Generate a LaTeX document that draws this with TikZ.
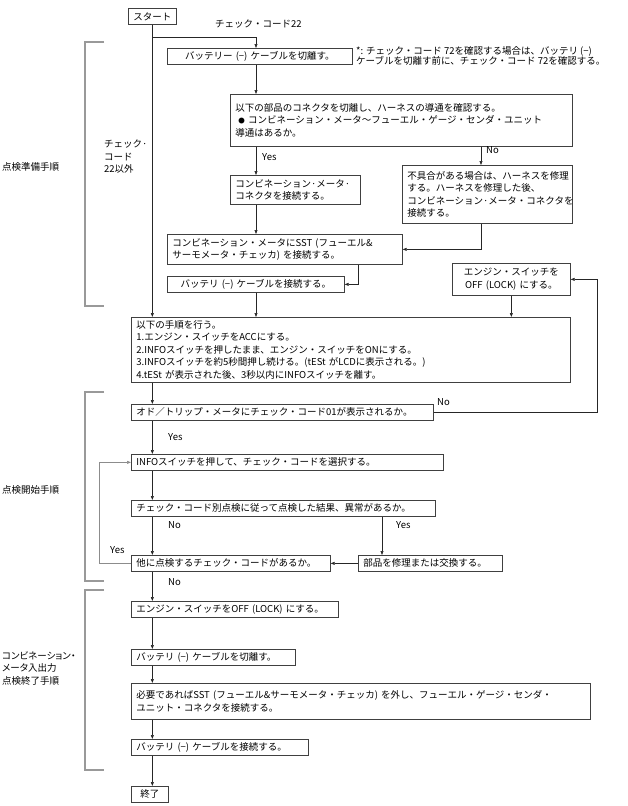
\documentclass[tikz,border=0pt]{standalone}
\usepackage{fontspec}
\setmainfont{Noto Sans CJK JP}
\usetikzlibrary{arrows.meta}

\begin{document}
\begin{tikzpicture}[x=1pt,y=-1pt,
    box/.style={draw=black!75,line width=0.7pt,anchor=north west,align=left,
      inner xsep=5pt,inner ysep=1pt},
    arr/.style={draw=black!85,line width=0.6pt,-{Triangle[length=4pt,width=3pt]}},
    brk/.style={draw=black!40,line width=1.2pt},
    lbl/.style={inner sep=0pt,anchor=west},
    every node/.style={font=\fontsize{9.5}{12.5}\selectfont}]
  \useasboundingbox (0,0) rectangle (627,806);
  % columns of the connectors
  \coordinate (colA) at (256,0);
  \coordinate (colB) at (481,0);
  \coordinate (colC) at (358,0);
  \coordinate (colP) at (382,0);
  \coordinate (colR) at (597,0);
  \coordinate (colL) at (99,0);
  \coordinate (row22) at (0,37);

  % preparation
  \node[box,align=center,text width=38pt,minimum height=16pt] (start) at (128,8) {スタート};
  \node[lbl] (l22) at (215,24) {チェック・コード22};
  \node[box,align=center,text width=175pt,minimum height=16pt] (bat1) at (167,48)
    {バッテリー (−) ケーブルを切離す。};
  \node[anchor=north west,align=left,inner sep=0pt,
    font=\fontsize{9.5}{10.5}\selectfont] (note) at (356,46)
    {*: チェック・コード 72を確認する場合は、バッテリ (−)\\
     ケーブルを切離す前に、チェック・コード 72を確認する。};
  \node[box,text width=332pt,minimum height=52pt] (cont) at (230,94)
    {以下の部品のコネクタを切離し、ハーネスの導通を確認する。\\
     \hspace{3pt}{\fontsize{6.5}{6.5}\selectfont ●} コンビネーション・メータ〜フューエル・ゲージ・センダ・ユニット\\
     導通はあるか。};
  \node[box,text width=120pt,minimum height=29pt] (conn) at (230,175)
    {コンビネーション·メータ·\\コネクタを接続する。};
  \node[box,text width=160pt,minimum height=58pt] (harn) at (402,165)
    {不具合がある場合は、ハーネスを修理\\する。ハーネスを修理した後、\\
     コンビネーション·メータ・コネクタを\\接続する。};
  \node[box,text width=225pt,minimum height=30pt] (sst) at (167,234)
    {コンビネーション・メータにSST (フューエル\&\\サーモメータ・チェッカ) を接続する。};
  \node[box,align=center,text width=167pt,minimum height=16pt] (bat2) at (167,276)
    {バッテリ (−) ケーブルを接続する。};
  \node[box,align=center,text width=108pt,minimum height=32pt] (eoff1) at (452,263)
    {エンジン・スイッチを\\OFF (LOCK) にする。};
  \node[box,text width=429pt,minimum height=65pt] (proc) at (131,317)
    {以下の手順を行う。\\
     1.エンジン・スイッチをACCにする。\\
     2.INFOスイッチを押したまま、エンジン・スイッチをONにする。\\
     3.INFOスイッチを約5秒間押し続ける。(tESt がLCDに表示される。)\\
     4.tESt が表示された後、3秒以内にINFOスイッチを離す。};

  % check start
  \node[box,text width=292pt,minimum height=16pt] (odo) at (131,404)
    {オド／トリップ・メータにチェック・コード01が表示されるか。};
  \node[box,text width=302pt,minimum height=16pt] (info) at (131,454)
    {INFOスイッチを押して、チェック・コードを選択する。};
  \node[box,text width=294pt,minimum height=16pt] (result) at (131,500)
    {チェック・コード別点検に従って点検した結果、異常があるか。};
  \node[box,text width=189pt,minimum height=16pt] (other) at (131,555)
    {他に点検するチェック・コードがあるか。};
  \node[box,text width=134pt,minimum height=16pt] (parts) at (358,555)
    {部品を修理または交換する。};

  % finish
  \node[box,text width=197pt,minimum height=16pt] (eoff2) at (131,601)
    {エンジン・スイッチをOFF (LOCK) にする。};
  \node[box,text width=154pt,minimum height=16pt] (bat3) at (131,649)
    {バッテリ (−) ケーブルを切離す。};
  \node[box,text width=449pt,minimum height=36pt] (sst2) at (131,683)
    {必要であればSST (フューエル\&サーモメータ・チェッカ) を外し、フューエル・ゲージ・センダ・\\
     ユニット・コネクタを接続する。};
  \node[box,text width=167pt,minimum height=16pt] (bat4) at (131,739)
    {バッテリ (−) ケーブルを接続する。};
  \node[box,align=center,text width=27pt,minimum height=16pt] (end) at (131,786) {終了};

  % side brackets
  \draw[brk] (104,42) -- (85,42) -- (85,306) -- (104,306);
  \draw[brk] (104,392) -- (85,392) -- (85,581) -- (104,581);
  \draw[brk] (104,590) -- (85,590) -- (85,770) -- (104,770);
  \node[lbl] (prep) at (2,167) {点検準備手順};
  \node[lbl,anchor=north west,align=left] (not22) at (104,140) {チェック·\\コード\\22以外};
  \node[lbl] (begin) at (2,490) {点検開始手順};
  \node[lbl,align=left,font=\fontsize{9.5}{12.5}\selectfont\addfontfeature{RawFeature=+palt}]
    (fin) at (2,668) {コンビネーション・\\メータ入出力\\点検終了手順};

  % connectors
  \draw[arr] (start.south) -- (start.south |- proc.north);
  \draw[arr] (start.south |- row22) -| (bat1.north -| colA);
  \draw[arr] (bat1.south -| colA) -- (cont.north -| colA);
  \draw[arr] (cont.south -| colA) -- (conn.north -| colA);
  \draw[arr] (cont.south -| colB) -- (harn.north -| colB);
  \draw[arr] (conn.south -| colA) -- (sst.north -| colA);
  \draw[arr] (harn.south -| colB) |- (sst.east);
  \draw[arr] (sst.south -| colC) |- (bat2.east);
  \draw[arr] (bat2.south -| colA) -- (proc.north -| colA);
  \draw[arr] (eoff1.south) -- (eoff1.south |- proc.north);
  \draw[arr] (odo.east) -- (odo.east -| colR) |- (eoff1.east);
  \draw[arr] (proc.south -| start.south) -- (odo.north -| start.south);
  \draw[arr] (odo.south -| start.south) -- (info.north -| start.south);
  \draw[arr] (info.south -| start.south) -- (result.north -| start.south);
  \draw[arr] (result.south -| start.south) -- (other.north -| start.south);
  \draw[arr] (result.south -| colP) -- (parts.north -| colP);
  \draw[arr] (parts.west) -- (other.east);
  \draw[arr,draw=black!45] (other.west) -- (other.west -| colL) |- (info.west);
  \draw[arr] (other.south -| start.south) -- (eoff2.north -| start.south);
  \draw[arr] (eoff2.south -| start.south) -- (bat3.north -| start.south);
  \draw[arr] (bat3.south -| start.south) -- (sst2.north -| start.south);
  \draw[arr] (sst2.south -| start.south) -- (bat4.north -| start.south);
  \draw[arr] (bat4.south -| start.south) -- (end.north -| start.south);

  % branch labels
  \node[lbl] (yes1) at (262,157) {Yes};
  \node[lbl] (no1) at (486,150) {No};
  \node[lbl] (no2) at (437,402) {No};
  \node[lbl] (yes2) at (168,437) {Yes};
  \node[lbl] (no3) at (168,525) {No};
  \node[lbl] (yes3) at (396,525) {Yes};
  \node[lbl] (yes4) at (110,550) {Yes};
  \node[lbl] (no4) at (168,582) {No};
\end{tikzpicture}
\end{document}
